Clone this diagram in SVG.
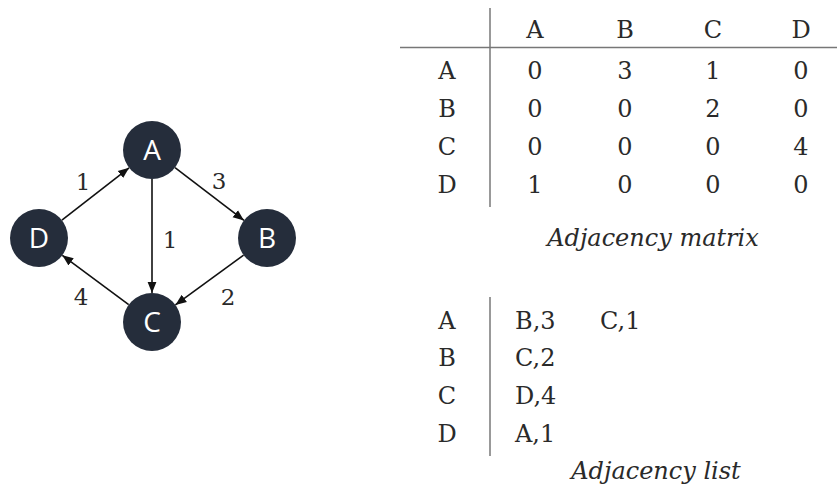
<svg xmlns="http://www.w3.org/2000/svg" width="837" height="494" viewBox="0 0 837 494">
  <style>
    .node circle { fill: #252d3b; }
    .node text { fill: #ffffff; font-family: "Open Sans", "Noto Sans", sans-serif; font-size: 28px; text-anchor: middle; }
    .edge { stroke: #111111; stroke-width: 1.6; fill: none; marker-end: url(#arrow); }
    .w { font-family: "DejaVu Serif", "Liberation Serif", serif; font-size: 23px; fill: #2a2a2a; text-anchor: middle; }
    .t { font-family: "DejaVu Serif", "Liberation Serif", serif; font-size: 24px; fill: #2a2a2a; text-anchor: middle; }
    .tl { font-family: "DejaVu Serif", "Liberation Serif", serif; font-size: 24px; fill: #2a2a2a; }
    .cap { font-family: "DejaVu Serif", "Liberation Serif", serif; font-style: italic; font-size: 24px; fill: #2a2a2a; text-anchor: middle; }
    .rule { stroke: #777777; stroke-width: 1.5; }
  </style>
  <defs>
    <marker id="arrow" viewBox="0 0 10 10" refX="10" refY="5" markerWidth="11" markerHeight="11" markerUnits="userSpaceOnUse" orient="auto">
      <path d="M0,1 L10,5 L0,9 z" fill="#111111"/>
    </marker>
  </defs>

  <!-- directed weighted graph -->
  <g id="edges">
    <line class="edge" x1="61.9" y1="220.2" x2="129.1" y2="167.8"/>
    <line class="edge" x1="175" y1="167.6" x2="244" y2="220.4"/>
    <line class="edge" x1="152" y1="179" x2="152" y2="293"/>
    <line class="edge" x1="243.6" y1="255.1" x2="175.4" y2="304.9"/>
    <line class="edge" x1="128.7" y1="304.7" x2="62.3" y2="255.3"/>
  </g>
  <g id="edge-labels">
    <text class="w" x="83" y="190">1</text>
    <text class="w" x="219" y="189">3</text>
    <text class="w" x="170" y="248">1</text>
    <text class="w" x="81" y="305">4</text>
    <text class="w" x="228" y="305">2</text>
  </g>
  <g id="node-A" class="node"><circle cx="152" cy="150" r="29"/><text x="152" y="160">A</text></g>
  <g id="node-B" class="node"><circle cx="267" cy="238" r="29"/><text x="267" y="248">B</text></g>
  <g id="node-C" class="node"><circle cx="152" cy="322" r="29"/><text x="152" y="332">C</text></g>
  <g id="node-D" class="node"><circle cx="39" cy="238" r="29"/><text x="39" y="248">D</text></g>

  <!-- adjacency matrix -->
  <g id="matrix">
    <line class="rule" x1="490" y1="8" x2="490" y2="207"/>
    <line class="rule" x1="400" y1="47.5" x2="837" y2="47.5"/>
    <text class="t" x="535" y="38">A</text>
    <text class="t" x="625" y="38">B</text>
    <text class="t" x="713" y="38">C</text>
    <text class="t" x="801" y="38">D</text>
    <text class="t" x="447" y="79">A</text>
    <text class="t" x="535" y="79">0</text><text class="t" x="625" y="79">3</text><text class="t" x="713" y="79">1</text><text class="t" x="801" y="79">0</text>
    <text class="t" x="447" y="117">B</text>
    <text class="t" x="535" y="117">0</text><text class="t" x="625" y="117">0</text><text class="t" x="713" y="117">2</text><text class="t" x="801" y="117">0</text>
    <text class="t" x="447" y="155">C</text>
    <text class="t" x="535" y="155">0</text><text class="t" x="625" y="155">0</text><text class="t" x="713" y="155">0</text><text class="t" x="801" y="155">4</text>
    <text class="t" x="447" y="193">D</text>
    <text class="t" x="535" y="193">1</text><text class="t" x="625" y="193">0</text><text class="t" x="713" y="193">0</text><text class="t" x="801" y="193">0</text>
    <text class="cap" x="653" y="246">Adjacency matrix</text>
  </g>

  <!-- adjacency list -->
  <g id="list">
    <line class="rule" x1="490" y1="297" x2="490" y2="456"/>
    <text class="t" x="447" y="329">A</text>
    <text class="tl" x="515" y="329">B,3</text><text class="tl" x="600" y="329">C,1</text>
    <text class="t" x="447" y="366">B</text>
    <text class="tl" x="515" y="366">C,2</text>
    <text class="t" x="447" y="404">C</text>
    <text class="tl" x="515" y="404">D,4</text>
    <text class="t" x="447" y="442">D</text>
    <text class="tl" x="515" y="442">A,1</text>
    <text class="cap" x="656" y="479">Adjacency list</text>
  </g>
</svg>
